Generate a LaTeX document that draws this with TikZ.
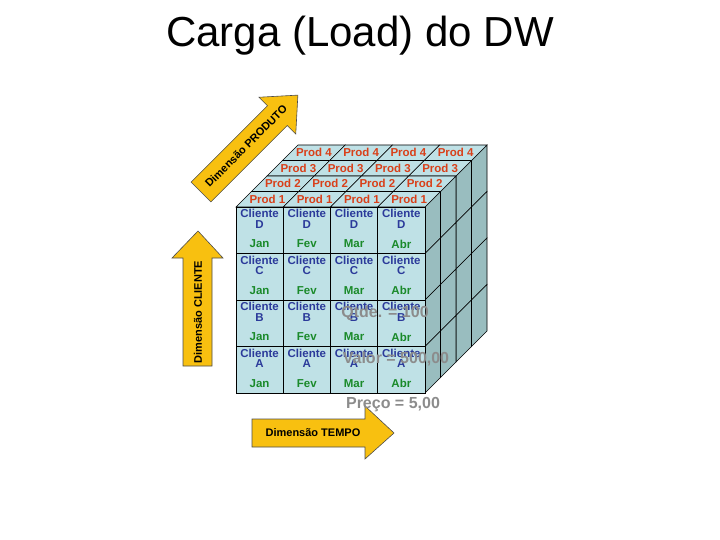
\documentclass[tikz,border=0pt]{standalone}
\usepackage{fontspec}
\setmainfont{Liberation Sans}
\begin{document}
\begin{tikzpicture}[x=1pt,y=-1pt,
  cubefront/.style={draw=black,fill=cyanf,line width=0.8pt},
  cubetop/.style={draw=black,fill=cyanf,line width=0.6pt},
  cubeside/.style={draw=black,fill=sidec,line width=0.6pt},
  cli/.style={text=cblue,font=\bfseries\fontsize{11.5}{10.5}\selectfont,align=center,inner sep=0},
  mon/.style={text=cgreen,font=\bfseries\fontsize{11.5}{12}\selectfont,inner sep=0},
  prd/.style={text=cred,font=\bfseries\fontsize{11.5}{12}\selectfont,inner sep=0},
  ov/.style={text=gray!90,font=\bfseries\fontsize{16}{16}\selectfont,inner sep=0},
  arr/.style={draw=black!70,fill=ayel,line width=0.6pt},
  arrt/.style={font=\bfseries\fontsize{11}{11}\selectfont,inner sep=0}]
\definecolor{cyanf}{HTML}{BFE1E6}
\definecolor{sidec}{HTML}{99BDBF}
\definecolor{cblue}{HTML}{2B3A9A}
\definecolor{cgreen}{HTML}{1A8A2A}
\definecolor{cred}{HTML}{D9401A}
\definecolor{ayel}{HTML}{F8C010}
\useasboundingbox (0,0) rectangle (720,540);
\node[font=\fontsize{42}{42}\selectfont] (title) at (360,36) {Carga (Load) do DW};
% arrows
\draw[arr] (252,419) -- (365,419) -- (365,406) -- (394,433) -- (365,459) -- (365,447) -- (252,447) -- cycle;
\node[arrt] (tempo) at (313,433) {Dimensão TEMPO};
\draw[arr] (183,366) -- (183,258) -- (172,258) -- (198,231) -- (223,258) -- (212,258) -- (212,366) -- cycle;
\node[arrt,rotate=90] (cliente) at (198,312) {Dimensão CLIENTE};
\begin{scope}[shift={(201,192)},rotate=45]
\draw[arr] (0,-14) -- (108,-14) -- (108,-26) -- (137,0) -- (108,26) -- (108,14) -- (0,14) -- cycle;
\end{scope}
\node[arrt,rotate=45] (prod) at (246,146) {Dimensão PRODUTO};
% side faces
\foreach \k in {3,2,1,0}{
 \foreach \i in {0,...,3}{
  \draw[cubeside] ({425+15.5*\k},{207+46.5*\i-15.5*\k}) -- ++(15.5,-15.5) -- ++(0,46.5) -- ++(-15.5,15.5) -- cycle;
 }}
% top faces
\foreach \k in {3,2,1,0}{
 \foreach \j in {0,...,3}{
  \pgfmathtruncatemacro\pn{\k+1}
  \draw[cubetop] ({236+47.25*\j+15.5*\k},{207-15.5*\k}) -- ++(15.5,-15.5) -- ++(47.25,0) -- ++(-15.5,15.5) -- cycle;
  \node[prd] (p\k\j) at ({236+47.25*\j+15.5*\k+31.4},{207-15.5*\k-7.75}) {Prod \pn};
 }}
% front
\foreach \L [count=\i from 0] in {D,C,B,A}{
 \foreach \m [count=\j from 0] in {Jan,Fev,Mar,Abr}{
  \draw[cubefront] ({236+47.25*\j},{207+46.5*\i}) rectangle ++(47.25,46.5);
  \node[cli,anchor=north] (c\i\j) at ({236+47.25*\j+23.6},{209+46.5*\i}) {Cliente\\\L};
  \node[mon] (m\i\j) at ({236+47.25*\j+23.6},{244+46.5*\i}) {\m};
 }}
\node[ov] (q) at (385,313) {Qtde. = 100};
\node[ov] (v) at (396,359) {Valor = 500,00};
\node[ov] (pr) at (393,405) {Preço = 5,00};
\end{tikzpicture}
\end{document}
